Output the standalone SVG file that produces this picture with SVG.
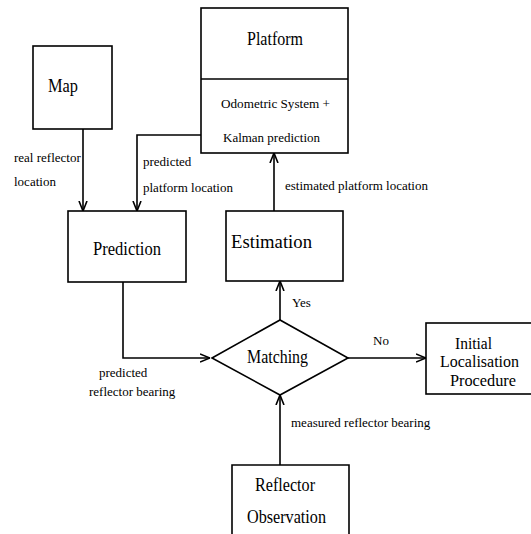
<svg xmlns="http://www.w3.org/2000/svg" width="531" height="534" viewBox="0 0 531 534">
<style>
.box{fill:none;stroke:#000;stroke-width:1.6}
.ln{fill:none;stroke:#000;stroke-width:1.6}
.big{font-family:"Liberation Serif","Times New Roman",serif;font-size:18px;fill:#000;text-anchor:middle}
.ini{font-family:"Liberation Serif","Times New Roman",serif;font-size:16px;fill:#000;text-anchor:middle}
.mid{font-family:"Liberation Serif","Times New Roman",serif;font-size:13px;fill:#000;text-anchor:middle}
.lbl{font-family:"Liberation Serif","Times New Roman",serif;font-size:13px;fill:#000}
</style>
<defs>
<marker id="arr" viewBox="0 0 10 10" refX="10" refY="5" markerWidth="10" markerHeight="10" markerUnits="userSpaceOnUse" orient="auto">
<path d="M0,1 L10,5 L0,9" fill="none" stroke="#000" stroke-width="1.6"/>
</marker>
</defs>
<rect width="531" height="534" fill="#fff"/>
<g id="map"><rect class="box" x="33" y="46" width="79" height="83"/><text class="big" x="63" y="92" textLength="30" lengthAdjust="spacingAndGlyphs">Map</text></g>
<g id="platform"><rect class="box" x="201" y="8" width="147" height="145"/><line class="ln" x1="201" y1="79" x2="348" y2="79"/>
<text class="big" x="275" y="45" textLength="56" lengthAdjust="spacingAndGlyphs">Platform</text>
<text class="mid" x="275.5" y="108" textLength="109" lengthAdjust="spacingAndGlyphs">Odometric System +</text>
<text class="mid" x="271.5" y="142" textLength="97" lengthAdjust="spacingAndGlyphs">Kalman prediction</text></g>
<g id="prediction"><rect class="box" x="68" y="211" width="118" height="71"/><text class="big" x="127" y="255" textLength="68" lengthAdjust="spacingAndGlyphs">Prediction</text></g>
<g id="estimation"><rect class="box" x="226" y="211" width="117" height="70"/><text class="big" x="271.5" y="248" textLength="81" lengthAdjust="spacingAndGlyphs">Estimation</text></g>
<g id="matching"><path class="box" d="M212,358 L280,320 L348,358 L280,395 Z"/><text class="big" x="277.5" y="363" textLength="61" lengthAdjust="spacingAndGlyphs">Matching</text></g>
<g id="initial"><rect class="box" x="426" y="323" width="106" height="71"/>
<text class="ini" x="473.5" y="349" textLength="37" lengthAdjust="spacingAndGlyphs">Initial</text>
<text class="ini" x="479.5" y="367" textLength="79" lengthAdjust="spacingAndGlyphs">Localisation</text>
<text class="ini" x="483" y="386" textLength="66" lengthAdjust="spacingAndGlyphs">Procedure</text></g>
<g id="observation"><path class="box" d="M232,536 L232,465 L349,465 L349,536"/>
<text class="big" x="285" y="491" textLength="60" lengthAdjust="spacingAndGlyphs">Reflector</text>
<text class="big" x="286.5" y="523" textLength="79" lengthAdjust="spacingAndGlyphs">Observation</text></g>
<g id="connectors">
<line class="ln" x1="83" y1="129" x2="83" y2="211" marker-end="url(#arr)"/>
<polyline class="ln" points="201,135 137,135 137,211" marker-end="url(#arr)"/>
<line class="ln" x1="274" y1="211" x2="274" y2="153" marker-end="url(#arr)"/>
<polyline class="ln" points="123,282 123,358 210,358" marker-end="url(#arr)"/>
<line class="ln" x1="280" y1="320" x2="280" y2="281" marker-end="url(#arr)"/>
<line class="ln" x1="348" y1="358" x2="426" y2="358" marker-end="url(#arr)"/>
<line class="ln" x1="280" y1="465" x2="280" y2="395" marker-end="url(#arr)"/>
<text class="lbl" x="14" y="162">real reflector</text>
<text class="lbl" x="14" y="186">location</text>
<text class="lbl" x="143" y="166">predicted</text>
<text class="lbl" x="143" y="192">platform location</text>
<text class="lbl" x="285" y="190">estimated platform location</text>
<text class="lbl" x="292" y="307">Yes</text>
<text class="lbl" x="373" y="345">No</text>
<text class="lbl" x="99" y="377">predicted</text>
<text class="lbl" x="89" y="396">reflector bearing</text>
<text class="lbl" x="291" y="427">measured reflector bearing</text>
</g>
</svg>
